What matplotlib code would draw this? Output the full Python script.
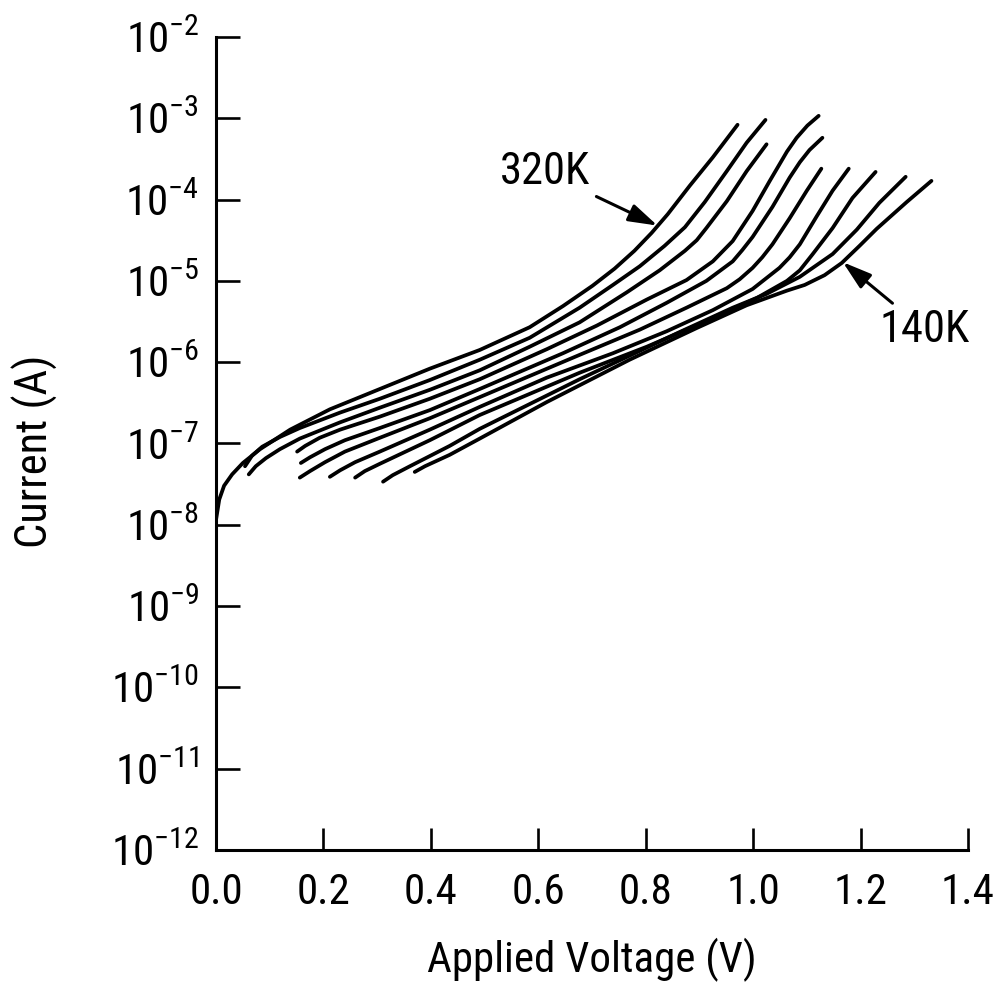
import matplotlib

matplotlib.use("Agg")
import matplotlib.pyplot as plt
import numpy as np
from matplotlib.ticker import FixedLocator, NullLocator

FONT = ["Roboto Condensed", "Archivo Narrow", "PT Sans Narrow", "Liberation Sans", "DejaVu Sans"]
plt.rcParams["font.family"] = FONT
plt.rcParams["mathtext.fontset"] = "custom"
plt.rcParams["mathtext.rm"] = "Roboto Condensed"
plt.rcParams["mathtext.default"] = "regular"

# I-V curves: voltage (V) and log10 of current (A)
temperatures = [320, 300, 280, 260, 240, 220, 200, 180, 160, 140]

v_320 = [0.000, 0.006, 0.015, 0.030, 0.050, 0.082, 0.138, 0.212, 0.305, 0.398, 0.491,
         0.584, 0.646, 0.701, 0.742, 0.779, 0.811, 0.841, 0.882, 0.925, 0.971]
logi_320 = [-7.94, -7.69, -7.52, -7.38, -7.24, -7.07, -6.83, -6.58, -6.33, -6.08, -5.85,
            -5.57, -5.31, -5.06, -4.85, -4.63, -4.41, -4.18, -3.83, -3.48, -3.08]

v_300 = [0.054, 0.067, 0.086, 0.119, 0.156, 0.231, 0.305, 0.398, 0.491, 0.584,
         0.677, 0.739, 0.789, 0.835, 0.873, 0.910, 0.951, 0.988, 1.023]
logi_300 = [-7.28, -7.15, -7.04, -6.92, -6.81, -6.62, -6.45, -6.22, -5.97, -5.70,
            -5.33, -5.05, -4.82, -4.57, -4.34, -4.03, -3.65, -3.30, -3.02]

v_280 = [0.061, 0.074, 0.093, 0.119, 0.156, 0.231, 0.305, 0.398, 0.491, 0.584,
         0.677, 0.765, 0.826, 0.873, 0.895, 0.913, 0.951, 0.988, 1.025]
logi_280 = [-7.38, -7.28, -7.18, -7.07, -6.94, -6.74, -6.56, -6.34, -6.10, -5.81,
            -5.51, -5.14, -4.87, -4.63, -4.50, -4.35, -4.02, -3.65, -3.32]

v_260 = [0.151, 0.166, 0.193, 0.231, 0.305, 0.398, 0.491, 0.616, 0.709,
         0.802, 0.876, 0.925, 0.962, 0.999, 1.031, 1.063, 1.081, 1.101, 1.122]
logi_260 = [-7.10, -7.03, -6.93, -6.83, -6.67, -6.45, -6.21, -5.84, -5.55,
            -5.23, -4.99, -4.76, -4.51, -4.14, -3.77, -3.41, -3.24, -3.09, -2.97]

v_240 = [0.158, 0.175, 0.203, 0.240, 0.305, 0.398, 0.491, 0.646, 0.752,
         0.839, 0.913, 0.962, 0.980, 0.999, 1.036, 1.068, 1.087, 1.105, 1.129]
logi_240 = [-7.24, -7.17, -7.07, -6.96, -6.81, -6.59, -6.33, -5.89, -5.57,
            -5.27, -5.00, -4.76, -4.62, -4.46, -4.09, -3.73, -3.54, -3.39, -3.24]

v_220 = [0.156, 0.175, 0.203, 0.240, 0.305, 0.398, 0.491, 0.677, 0.789,
         0.876, 0.951, 0.975, 0.999, 1.017, 1.036, 1.068, 1.100, 1.127]
logi_220 = [-7.42, -7.34, -7.23, -7.10, -6.93, -6.69, -6.43, -5.91, -5.60,
            -5.33, -5.09, -4.98, -4.84, -4.71, -4.55, -4.23, -3.89, -3.62]

v_200 = [0.212, 0.231, 0.259, 0.305, 0.398, 0.491, 0.616, 0.739, 0.839,
         0.925, 0.999, 1.049, 1.068, 1.087, 1.118, 1.148, 1.178]
logi_200 = [-7.41, -7.33, -7.23, -7.10, -6.83, -6.55, -6.19, -5.89, -5.62,
            -5.36, -5.10, -4.84, -4.71, -4.55, -4.21, -3.89, -3.62]

v_180 = [0.259, 0.277, 0.305, 0.398, 0.491, 0.677, 0.802, 0.925,
         1.007, 1.063, 1.087, 1.111, 1.148, 1.185, 1.228]
logi_180 = [-7.42, -7.34, -7.25, -6.96, -6.65, -6.13, -5.81, -5.46,
            -5.21, -5.00, -4.87, -4.67, -4.35, -3.98, -3.66]

v_160 = [0.311, 0.329, 0.361, 0.435, 0.491, 0.677, 0.863,
         0.962, 1.025, 1.087, 1.148, 1.193, 1.235, 1.284]
logi_160 = [-7.47, -7.39, -7.28, -7.03, -6.82, -6.21, -5.63,
            -5.33, -5.16, -4.95, -4.67, -4.37, -4.04, -3.72]

v_140 = [0.370, 0.389, 0.435, 0.491, 0.616, 0.770, 0.895, 0.988, 1.063,
         1.096, 1.133, 1.165, 1.198, 1.230, 1.286, 1.332]
logi_140 = [-7.35, -7.28, -7.14, -6.94, -6.49, -5.97, -5.58, -5.30, -5.12,
            -5.05, -4.93, -4.78, -4.57, -4.36, -4.03, -3.77]

curves = [
    (v_320, logi_320), (v_300, logi_300), (v_280, logi_280), (v_260, logi_260),
    (v_240, logi_240), (v_220, logi_220), (v_200, logi_200), (v_180, logi_180),
    (v_160, logi_160), (v_140, logi_140),
]

x_ticks = [0.0, 0.2, 0.4, 0.6, 0.8, 1.0, 1.2, 1.4]
y_exponents = list(range(-12, -1))

fig = plt.figure(figsize=(10.01, 9.94), dpi=100)
ax = fig.add_axes([0.2158, 0.1449, 0.7512, 0.8179])

for voltage, log_current in curves:
    ax.plot(voltage, 10.0 ** np.array(log_current), color="black", lw=2.7,
            solid_capstyle="round", solid_joinstyle="round")

ax.set_yscale("log")
ax.set_xlim(0.0, 1.4)
ax.set_ylim(1e-12, 1e-2)

ax.xaxis.set_major_locator(FixedLocator(x_ticks))
ax.set_xticklabels([f"{t:.1f}" for t in x_ticks])
ax.yaxis.set_major_locator(FixedLocator([10.0 ** e for e in y_exponents]))
ax.yaxis.set_minor_locator(NullLocator())
ax.set_yticklabels([rf"$10^{{{e}}}$" for e in y_exponents])

for side in ("top", "right"):
    ax.spines[side].set_visible(False)
for side in ("left", "bottom"):
    ax.spines[side].set_linewidth(2.2)

ax.tick_params(axis="y", direction="in", length=17, width=1.9, pad=12, labelsize=31)
ax.tick_params(axis="x", direction="in", length=16, width=1.9, pad=16, labelsize=31)

ax.set_xlabel("Applied Voltage (V)", fontsize=31)
ax.set_ylabel("Current (A)", fontsize=32)
ax.xaxis.set_label_coords(0.5, -0.108)
ax.yaxis.set_label_coords(-0.21, 0.49)

arrow = dict(arrowstyle="-|>,head_length=0.55,head_width=0.17", color="black", lw=2.2,
             shrinkA=3, shrinkB=0)
ax.annotate("320K", xy=(0.822, 10 ** -4.32), xytext=(0.612, 10 ** -3.66),
            ha="center", va="center", fontsize=32, arrowprops=arrow)
ax.annotate("140K", xy=(1.167, 10 ** -4.77), xytext=(1.319, 10 ** -5.60),
            ha="center", va="center", fontsize=32, arrowprops=arrow,
            annotation_clip=False)

fig.savefig("out.png", dpi=100, facecolor="white")
